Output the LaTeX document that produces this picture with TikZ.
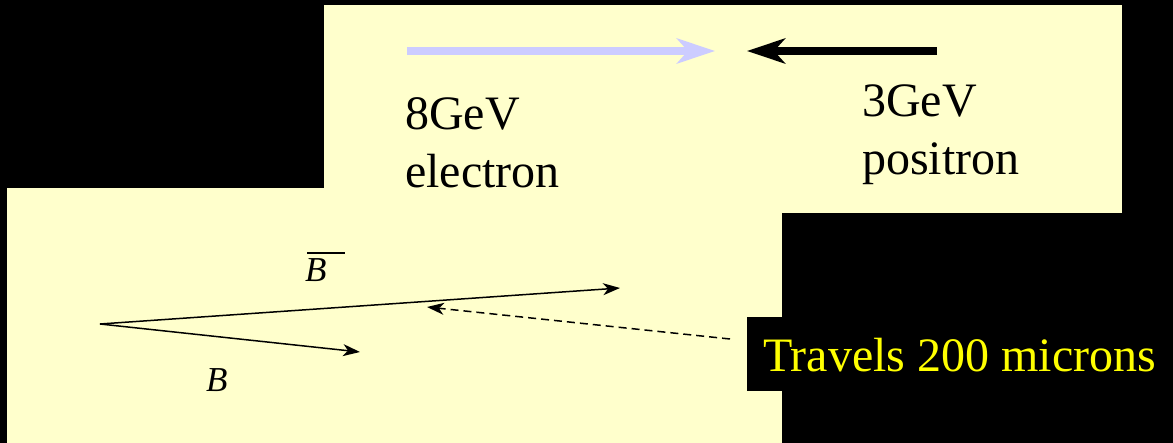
\documentclass[tikz,border=0pt]{standalone}
\usepackage{fontspec}
\setmainfont{Liberation Serif}
\usetikzlibrary{arrows.meta,positioning}
\definecolor{panel}{HTML}{FFFFCC}
\definecolor{beamblue}{HTML}{CCCCFF}
\definecolor{note}{HTML}{FFFF00}
\tikzset{
  bigtext/.style={inner sep=0pt, anchor=base west, align=left,
    font=\fontsize{48}{58}\selectfont},
  beam/.style={line width=8pt, -{Stealth[length=38pt, width=25pt, inset=11pt]}},
  track/.style={line width=1.5pt, -{Stealth[length=17pt, width=12pt, inset=5pt]}},
  hint/.style={track, dash pattern=on 8pt off 5pt},
  mlabel/.style={inner sep=0pt, anchor=base west,
    font=\fontsize{35}{40}\selectfont\itshape},
  barline/.style={line width=1.5pt}
}
\begin{document}
\begin{tikzpicture}[x=1pt,y=-1pt]
  % background and panels
  \fill[black] (0,0) rectangle (1173,443);
  \useasboundingbox (0,0) rectangle (1173,443);
  \fill[panel] (324,5) rectangle (1122,213);
  \fill[panel] (7,188) rectangle (782,443);
  \fill[black] (747,317) rectangle (1173,391);

  % colliding beams
  \coordinate (eStart) at (407,51);
  \coordinate (eTip) at (715,51);
  \coordinate (pStart) at (937,51);
  \coordinate (pTip) at (747,51);
  \draw[beam, color=beamblue] (eStart) -- (eTip);
  \draw[beam, color=black] (pStart) -- (pTip);
  \node[bigtext] (electron) at (405,188) {8GeV\\electron};
  \node[bigtext] (positron) at (862,175) {3GeV\\positron};

  % B pair
  \coordinate (vtx) at (100,324);
  \coordinate (bbarEnd) at (620,288);
  \coordinate (bEnd) at (360,352);
  \draw[track] (vtx) -- (bbarEnd);
  \draw[track] (vtx) -- (bEnd);
  \node[mlabel] (bbar) at (305,282) {B};
  \draw[barline] ([xshift=2pt,yshift=6pt]bbar.north west) -- ++(38,0);
  \node[mlabel] (blab) at (206,392) {B};

  % flight length
  \node[bigtext, text=note] (travels) at (763,372) {Travels 200 microns};
  \coordinate (hintStart) at (730,339);
  \coordinate (hintTip) at (427,307);
  \draw[hint] (hintStart) -- (hintTip);
\end{tikzpicture}
\end{document}
